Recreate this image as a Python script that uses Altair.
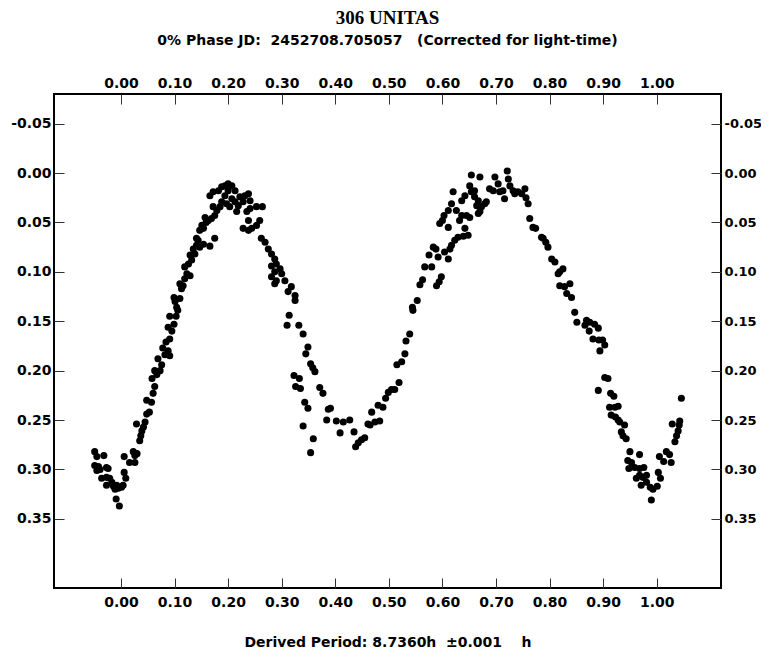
import altair as alt
import pandas as pd

phase = [
    -0.049, -0.045, -0.032, -0.049, -0.042, -0.039, -0.045, -0.027, -0.024, -0.036,
    -0.027, -0.021, -0.027, -0.017, -0.014, -0.011, -0.008, -0.005, 0.001, 0.004,
    -0.009, -0.003, 0.006, 0.009, 0.006, 0.016, 0.023, 0.026, 0.030, 0.026,
    0.035, 0.037, 0.039, 0.029, 0.042, 0.045, 0.048, 0.053, 0.048, 0.057,
    0.060, 0.063, 0.058, 0.067, 0.073, 0.063, 0.076, 0.069, 0.082, 0.088,
    0.091, 0.078, 0.084, 0.091, 0.095, 0.088, 0.099, 0.091, 0.103, 0.106,
    0.101, 0.110,
    0.104, 0.099, 0.113, 0.110, 0.116, 0.119, 0.123, 0.129, 0.119, 0.126,
    0.132, 0.129, 0.138, 0.135, 0.141, 0.147, 0.154, 0.166, 0.144, 0.141,
    0.175, 0.147, 0.154, 0.151, 0.159, 0.163, 0.157, 0.169, 0.175, 0.179,
    0.172, 0.185, 0.188, 0.166, 0.172, 0.182, 0.188, 0.194, 0.200, 0.207,
    0.200, 0.213, 0.194, 0.207, 0.197, 0.203, 0.213, 0.219, 0.216, 0.222,
    0.231, 0.238, 0.228, 0.241, 0.235, 0.241, 0.253, 0.264, 0.228, 0.238,
    0.244, 0.253, 0.259, 0.238, 0.262, 0.269, 0.275, 0.281, 0.287, 0.281,
    0.290, 0.297, 0.287, 0.300, 0.281, 0.290, 0.306, 0.287, 0.318, 0.312,
    0.325, 0.325,
    0.314, 0.310, 0.332, 0.340, 0.349, 0.345, 0.354, 0.358, 0.362, 0.323,
    0.333, 0.326, 0.335, 0.371, 0.377, 0.343, 0.349, 0.387, 0.391, 0.384,
    0.402, 0.415, 0.427, 0.340, 0.409, 0.435, 0.359, 0.354, 0.438, 0.443,
    0.449, 0.455, 0.461, 0.468, 0.465, 0.474, 0.483, 0.480, 0.489, 0.494,
    0.499, 0.505, 0.511, 0.519, 0.515, 0.524, 0.530, 0.532, 0.539, 0.545,
    0.544, 0.553,
    0.558, 0.563, 0.567, 0.580, 0.575, 0.583, 0.588, 0.592, 0.589, 0.594,
    0.598, 0.604, 0.611, 0.614, 0.617, 0.623, 0.629, 0.639, 0.648, 0.642,
    0.595, 0.600, 0.611, 0.603, 0.611, 0.617, 0.620, 0.626, 0.632, 0.636,
    0.645, 0.651, 0.636, 0.642, 0.651, 0.654, 0.670, 0.654, 0.660, 0.660,
    0.667, 0.664, 0.670, 0.673, 0.679, 0.682, 0.667, 0.688, 0.695, 0.698,
    0.704, 0.707, 0.713, 0.716, 0.721, 0.723, 0.726, 0.732, 0.735, 0.741,
    0.748, 0.754, 0.756, 0.760, 0.763, 0.769, 0.774, 0.785, 0.788, 0.793,
    0.797, 0.804, 0.810, 0.819, 0.825, 0.816, 0.819, 0.828, 0.838, 0.832,
    0.841,
    0.847, 0.851, 0.869, 0.875, 0.884, 0.891, 0.866, 0.874, 0.881, 0.892,
    0.899, 0.903, 0.894, 0.903, 0.909, 0.891, 0.914, 0.920, 0.912, 0.922,
    0.928, 0.915, 0.923, 0.928, 0.931, 0.940, 0.934, 0.937, 0.943, 0.950,
    0.968, 0.946, 0.953, 0.948, 0.959, 0.968, 0.976, 0.962, 0.968, 0.974,
    0.981, 0.971, 0.981, 0.988, 0.993, 1.001, 0.990, 1.003, 1.007, 1.005,
    1.013, 1.018, 1.024, 1.027, 1.034, 1.037, 1.040, 1.029, 1.043, 1.042,
    1.046,
]
mag = [
    0.282, 0.287, 0.286, 0.296, 0.297, 0.300, 0.301, 0.298, 0.299, 0.309,
    0.308, 0.309, 0.316, 0.313, 0.317, 0.320, 0.316, 0.319, 0.318, 0.316,
    0.330, 0.337, 0.303, 0.309, 0.287, 0.293, 0.282, 0.286, 0.284, 0.293,
    0.271, 0.266, 0.261, 0.254, 0.257, 0.252, 0.244, 0.242, 0.230, 0.232,
    0.223, 0.216, 0.208, 0.204, 0.200, 0.200, 0.194, 0.188, 0.184, 0.180,
    0.185, 0.177, 0.171, 0.168, 0.160, 0.156, 0.153, 0.145, 0.145, 0.139,
    0.130, 0.127,
    0.136, 0.126, 0.117, 0.112, 0.114, 0.107, 0.102, 0.104, 0.095, 0.092,
    0.088, 0.083, 0.082, 0.077, 0.073, 0.075, 0.072, 0.074, 0.068, 0.066,
    0.066, 0.058, 0.056, 0.053, 0.050, 0.048, 0.045, 0.046, 0.043, 0.038,
    0.034, 0.034, 0.029, 0.023, 0.019, 0.018, 0.014, 0.013, 0.011, 0.013,
    0.018, 0.018, 0.023, 0.026, 0.031, 0.034, 0.029, 0.033, 0.039, 0.024,
    0.023, 0.021, 0.029, 0.028, 0.039, 0.036, 0.034, 0.034, 0.056, 0.058,
    0.056, 0.053, 0.048, 0.048, 0.066, 0.070, 0.077, 0.082, 0.087, 0.094,
    0.092, 0.097, 0.100, 0.102, 0.105, 0.109, 0.109, 0.112, 0.115, 0.120,
    0.124, 0.129,
    0.144, 0.154, 0.154, 0.163, 0.176, 0.183, 0.193, 0.197, 0.201, 0.205,
    0.208, 0.216, 0.218, 0.217, 0.223, 0.232, 0.238, 0.239, 0.238, 0.250,
    0.251, 0.252, 0.250, 0.256, 0.263, 0.262, 0.269, 0.283, 0.277, 0.273,
    0.270, 0.268, 0.254, 0.242, 0.255, 0.252, 0.251, 0.235, 0.237, 0.228,
    0.222, 0.219, 0.219, 0.212, 0.194, 0.191, 0.183, 0.170, 0.163, 0.139,
    0.136, 0.129,
    0.113, 0.108, 0.095, 0.095, 0.083, 0.075, 0.077, 0.085, 0.114, 0.110,
    0.105, 0.080, 0.087, 0.077, 0.073, 0.068, 0.065, 0.064, 0.063, 0.056,
    0.051, 0.048, 0.055, 0.043, 0.038, 0.031, 0.019, 0.038, 0.048, 0.043,
    0.043, 0.045, 0.028, 0.023, 0.013, 0.002, 0.004, 0.019, 0.018, 0.024,
    0.028, 0.033, 0.039, 0.034, 0.031, 0.029, 0.041, 0.016, 0.018, 0.004,
    0.011, 0.019, 0.018, 0.026, -0.002, 0.006, 0.013, 0.018, 0.021, 0.019,
    0.021, 0.016, 0.025, 0.031, 0.046, 0.055, 0.056, 0.065, 0.066, 0.070,
    0.075, 0.087, 0.090, 0.100, 0.097, 0.102, 0.114, 0.115, 0.112, 0.122,
    0.126,
    0.141, 0.151, 0.149, 0.151, 0.153, 0.157, 0.154, 0.160, 0.168, 0.169,
    0.169, 0.174, 0.180, 0.207, 0.208, 0.220, 0.223, 0.226, 0.237, 0.237,
    0.236, 0.245, 0.247, 0.250, 0.252, 0.255, 0.262, 0.266, 0.269, 0.282,
    0.285, 0.291, 0.293, 0.299, 0.298, 0.299, 0.298, 0.309, 0.306, 0.308,
    0.306, 0.316, 0.313, 0.318, 0.320, 0.317, 0.331, 0.303, 0.309, 0.287,
    0.292, 0.282, 0.285, 0.293, 0.272, 0.266, 0.261, 0.254, 0.251, 0.255,
    0.228,
]

x_ticks = [0.0, 0.1, 0.2, 0.3, 0.4, 0.5, 0.6, 0.7, 0.8, 0.9, 1.0]
y_ticks = [-0.05, 0.0, 0.05, 0.10, 0.15, 0.20, 0.25, 0.30, 0.35]
x_domain = [-0.125, 1.12]
y_domain = [-0.08, 0.42]

title_text = "306 UNITAS"
subtitle_text = "0% Phase JD:\u00a0\u00a02452708.705057\u00a0\u00a0\u00a0(Corrected for light-time)"
period_text = "Derived Period: 8.7360h\u00a0\u00a0\u00b10.001\u00a0\u00a0\u00a0\u00a0h"

df = pd.DataFrame({"phase": phase, "mag": mag})

FONT = "DejaVu Sans"
xs = alt.Scale(domain=x_domain, nice=False, zero=False)
ys = alt.Scale(domain=y_domain, reverse=True, nice=False, zero=False)

LABEL_EXPR = "replace(format(datum.value, '.2f'), '\u2212', '-')"
lab = dict(labelFont=FONT, labelFontWeight="bold", labelColor="black",
           ticks=False, domain=False, grid=False, labelFlush=False, labelOverlap=False,
           labelExpr=LABEL_EXPR)
tck = dict(labels=False, domain=False, grid=False, ticks=True, tickSize=10, offset=-10,
           tickColor="#333333", tickWidth=1, title=None)

def layer(xaxis, yaxis, visible=False):
    m = alt.Chart(df).mark_point(filled=True, shape="circle", size=50, color="black",
                                 opacity=1 if visible else 0)
    return m.encode(
        x=alt.X("phase:Q", scale=xs, axis=xaxis),
        y=alt.Y("mag:Q", scale=ys, axis=yaxis),
    )

pts = layer(
    alt.Axis(orient="bottom", values=x_ticks, labelPadding=7, labelFontSize=14,
             title=period_text, titleFont=FONT, titleFontWeight="bold", titleFontSize=14,
             titleColor="black", titleBaseline="alphabetic", titleY=58, **lab),
    alt.Axis(orient="left", values=y_ticks, labelPadding=3, labelFontSize=14, title=None, **lab),
    visible=True,
)
lab2 = layer(
    alt.Axis(orient="top", values=x_ticks, labelPadding=4, labelFontSize=14, title=None, **lab),
    alt.Axis(orient="right", values=y_ticks, labelPadding=3, labelFontSize=13, title=None, **lab),
)
tk1 = layer(alt.Axis(orient="bottom", values=x_ticks, **tck),
            alt.Axis(orient="left", values=y_ticks, **tck))
tk2 = layer(alt.Axis(orient="top", values=x_ticks, **tck),
            alt.Axis(orient="right", values=y_ticks, **tck))

chart = (
    alt.layer(tk1, tk2, lab2, pts)
    .resolve_axis(x="independent", y="independent")
    .properties(
        width=667, height=494,
        autosize=alt.AutoSizeParams(type="none"),
        padding={"left": 46, "top": 86, "right": 40, "bottom": 63},
        title=alt.TitleParams(
            text=title_text, subtitle=subtitle_text,
            font="Liberation Serif", fontWeight="bold", fontSize=19, color="black",
            subtitleFont=FONT, subtitleFontWeight="bold", subtitleFontSize=14,
            subtitleColor="black", subtitlePadding=6, anchor="middle", frame="group",
            offset=28,
        ),
    )
    .configure(background="white")
    .configure_view(stroke="black", strokeWidth=2)
)

chart.save("out.html", embed_options={"renderer": "svg", "actions": False})
